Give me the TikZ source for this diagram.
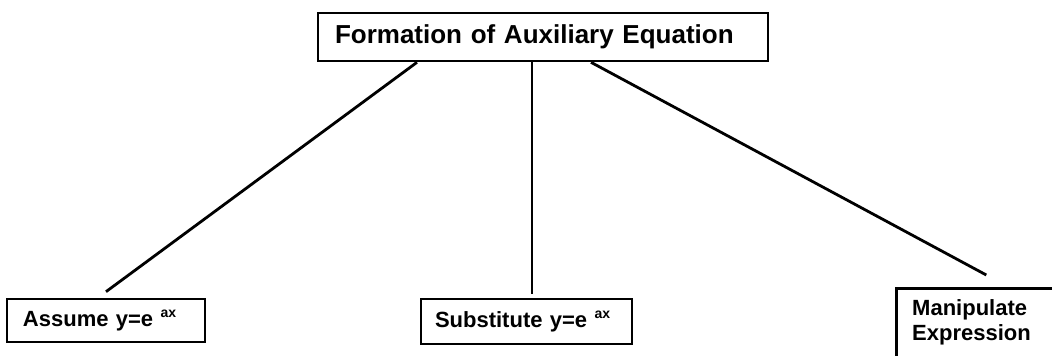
\documentclass[tikz,border=0pt]{standalone}
\usepackage{fontspec}
\setmainfont{Liberation Sans}
\newcommand{\supax}{\raisebox{9pt}{\fontsize{14}{14}\selectfont ax}}
\begin{document}
\begin{tikzpicture}[x=1pt,y=-1pt,
  box/.style={draw, line width=2.6pt, inner ysep=0pt, align=left,
    font=\bfseries\fontsize{22}{25}\selectfont},
  link/.style={line width=2.8pt}]
\clip (0,0) rectangle (1052,356);
\fill[white] (0,0) rectangle (1052,356);
\node[box, minimum height=48pt, inner xsep=17pt, text width=416pt,
  font=\bfseries\fontsize{26}{29}\selectfont] (top) at (543,37)
  {\mbox{Formation of Auxiliary Equation}};
\node[box, minimum height=43pt, inner xsep=16pt, text width=166pt] (assume) at (106,320.5)
  {\mbox{Assume y=e \supax}};
\node[box, minimum height=45pt, inner xsep=14pt, text width=183pt] (sub) at (526.5,321.5)
  {\mbox{Substitute y=e \supax}};
\node[box, anchor=north west, minimum width=250pt, minimum height=120pt] (manipbox) at (895,287) {};
\node[anchor=base west, align=left, inner sep=0pt,
  font=\bfseries\fontsize{22}{25}\selectfont] (manip) at (912,340) {Manipulate\\Expression};
\draw[link] ([xshift=-126pt]top.south) -- ([yshift=6pt]assume.north);
\draw[link] ([xshift=-11pt]top.south) -- ([xshift=5.5pt,yshift=4pt]sub.north);
\draw[link] ([xshift=48pt]top.south) -- ([xshift=-35pt,yshift=12pt]manipbox.north);
\end{tikzpicture}
\end{document}
